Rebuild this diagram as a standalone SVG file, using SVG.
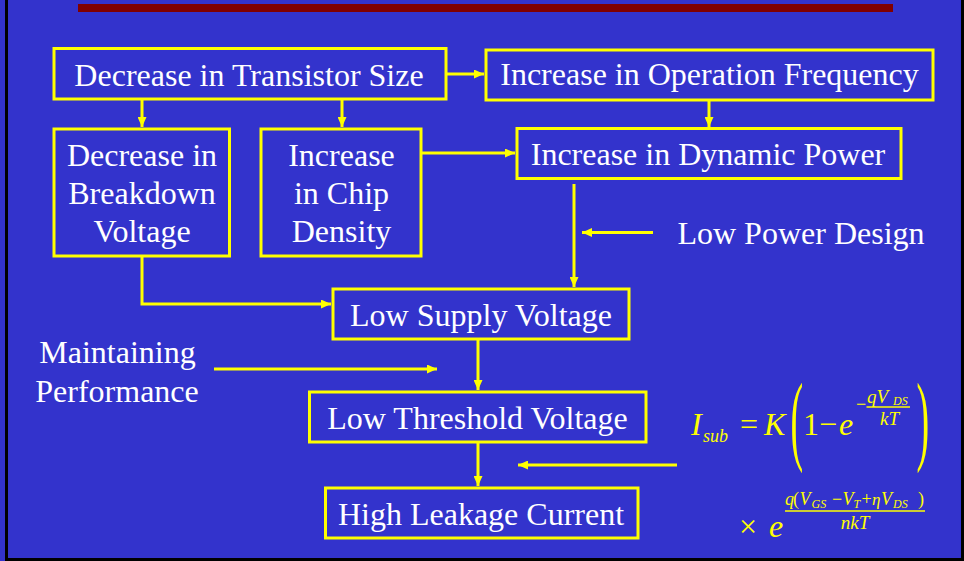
<svg xmlns="http://www.w3.org/2000/svg" width="964" height="561" viewBox="0 0 964 561">
<defs>
<style>
.box{fill:none;stroke:#FFFF00;stroke-width:3}
.lbl{font-family:"Liberation Serif","Times New Roman",serif;font-size:32px;fill:#FFFFFF;text-anchor:middle}
.con{fill:none;stroke:#FFFF00;stroke-width:3}
.f{font-family:"Liberation Serif","Times New Roman",serif;fill:#FFFF00}
.i{font-style:italic}
</style>
<marker id="ah" markerUnits="userSpaceOnUse" markerWidth="10" markerHeight="9" refX="10" refY="4.5" orient="auto">
<path d="M0,0 L10,4.5 L0,9 Z" fill="#FFFF00"/>
</marker>
</defs>
<rect x="0" y="0" width="964" height="561" fill="#3333CC"/>
<path d="M6.5,-5 V559.5 H962.5 V-5" fill="none" stroke="#000000" stroke-width="3"/>
<rect x="78" y="4" width="815" height="8" fill="#800000"/>

<g id="connectors">
<path class="con" d="M446,74 H484" marker-end="url(#ah)"/>
<path class="con" d="M142,100 V127" marker-end="url(#ah)"/>
<path class="con" d="M342,100 V127" marker-end="url(#ah)"/>
<path class="con" d="M709,101 V127" marker-end="url(#ah)"/>
<path class="con" d="M422,153 H515" marker-end="url(#ah)"/>
<path class="con" d="M574,184 V287" marker-end="url(#ah)"/>
<path class="con" d="M653,232.5 H582" marker-end="url(#ah)"/>
<path class="con" d="M142,257 V304 H331" marker-end="url(#ah)"/>
<path class="con" d="M478,340 V390" marker-end="url(#ah)"/>
<path class="con" d="M214,369 H437" marker-end="url(#ah)"/>
<path class="con" d="M478,443 V486" marker-end="url(#ah)"/>
<path class="con" d="M677,465 H518" marker-end="url(#ah)"/>
</g>

<g id="n1"><rect class="box" x="54" y="48.5" width="392" height="50.5"/><text class="lbl" x="249" y="86">Decrease in Transistor Size</text></g>
<g id="n2"><rect class="box" x="486" y="50" width="447" height="50"/><text class="lbl" x="709.5" y="85">Increase in Operation Frequency</text></g>
<g id="n3"><rect class="box" x="54" y="129" width="175.5" height="127"/><text class="lbl" x="142" y="166">Decrease in</text><text class="lbl" x="142" y="204">Breakdown</text><text class="lbl" x="142" y="242">Voltage</text></g>
<g id="n4"><rect class="box" x="261" y="129" width="160" height="127"/><text class="lbl" x="341.5" y="166">Increase</text><text class="lbl" x="341.5" y="204">in Chip</text><text class="lbl" x="341.5" y="242">Density</text></g>
<g id="n5"><rect class="box" x="517" y="128.5" width="384" height="50"/><text class="lbl" x="708" y="165">Increase in Dynamic Power</text></g>
<g id="n6"><rect class="box" x="333" y="289" width="296" height="50"/><text class="lbl" x="481" y="326">Low Supply Voltage</text></g>
<g id="n7"><rect class="box" x="309.5" y="392" width="336.5" height="50"/><text class="lbl" x="477.5" y="428.5">Low Threshold Voltage</text></g>
<g id="n8"><rect class="box" x="325.5" y="488" width="312.5" height="50"/><text class="lbl" x="481" y="524.5">High Leakage Current</text></g>

<g id="t-lowpower"><text class="lbl" x="801" y="243.5">Low Power Design</text></g>
<g id="t-maint"><text class="lbl" x="117.5" y="363">Maintaining</text><text class="lbl" x="117" y="401.5">Performance</text></g>

<g id="formula">
<text class="f i" x="691" y="435" font-size="32">I</text>
<text class="f i" x="703" y="442" font-size="18">sub</text>
<text class="f" x="740" y="435" font-size="32">=</text>
<text class="f i" x="764" y="435" font-size="32">K</text>
<text class="f" transform="translate(790.5,452) scale(0.38,1)" font-size="100">(</text>
<text class="f" x="803" y="435" font-size="32">1−</text>
<text class="f i" x="839" y="435" font-size="32">e</text>
<text class="f" x="856" y="410" font-size="18">−</text>
<text class="f i" x="867" y="402.5" font-size="19">qV</text>
<text class="f i" x="893" y="404.5" font-size="12">DS</text>
<line x1="866.5" y1="407" x2="910" y2="407" stroke="#FFFF00" stroke-width="1.3"/>
<text class="f i" x="880" y="425" font-size="19">kT</text>
<text class="f" transform="translate(916.5,452) scale(0.38,1)" font-size="100">)</text>
<text class="f" x="739" y="537" font-size="32">×</text>
<text class="f i" x="769" y="537" font-size="32">e</text>
<text class="f i" x="785" y="505" font-size="18">q</text>
<text class="f" x="793" y="505" font-size="18">(</text>
<text class="f i" x="799.5" y="505" font-size="18">V</text>
<text class="f i" x="811.5" y="507.5" font-size="12">GS</text>
<text class="f" x="832" y="505" font-size="18">−</text>
<text class="f i" x="842.5" y="505" font-size="18">V</text>
<text class="f i" x="853.5" y="507.5" font-size="12">T</text>
<text class="f" x="861.5" y="505" font-size="18">+</text>
<text class="f i" x="872" y="505" font-size="17">η</text>
<text class="f i" x="881" y="505" font-size="18">V</text>
<text class="f i" x="893" y="507.5" font-size="12">DS</text>
<text class="f" x="918" y="505" font-size="18">)</text>
<line x1="785" y1="511" x2="925" y2="511" stroke="#FFFF00" stroke-width="1.3"/>
<text class="f i" x="855" y="528.5" font-size="19" text-anchor="middle">nkT</text>
</g>
</svg>
